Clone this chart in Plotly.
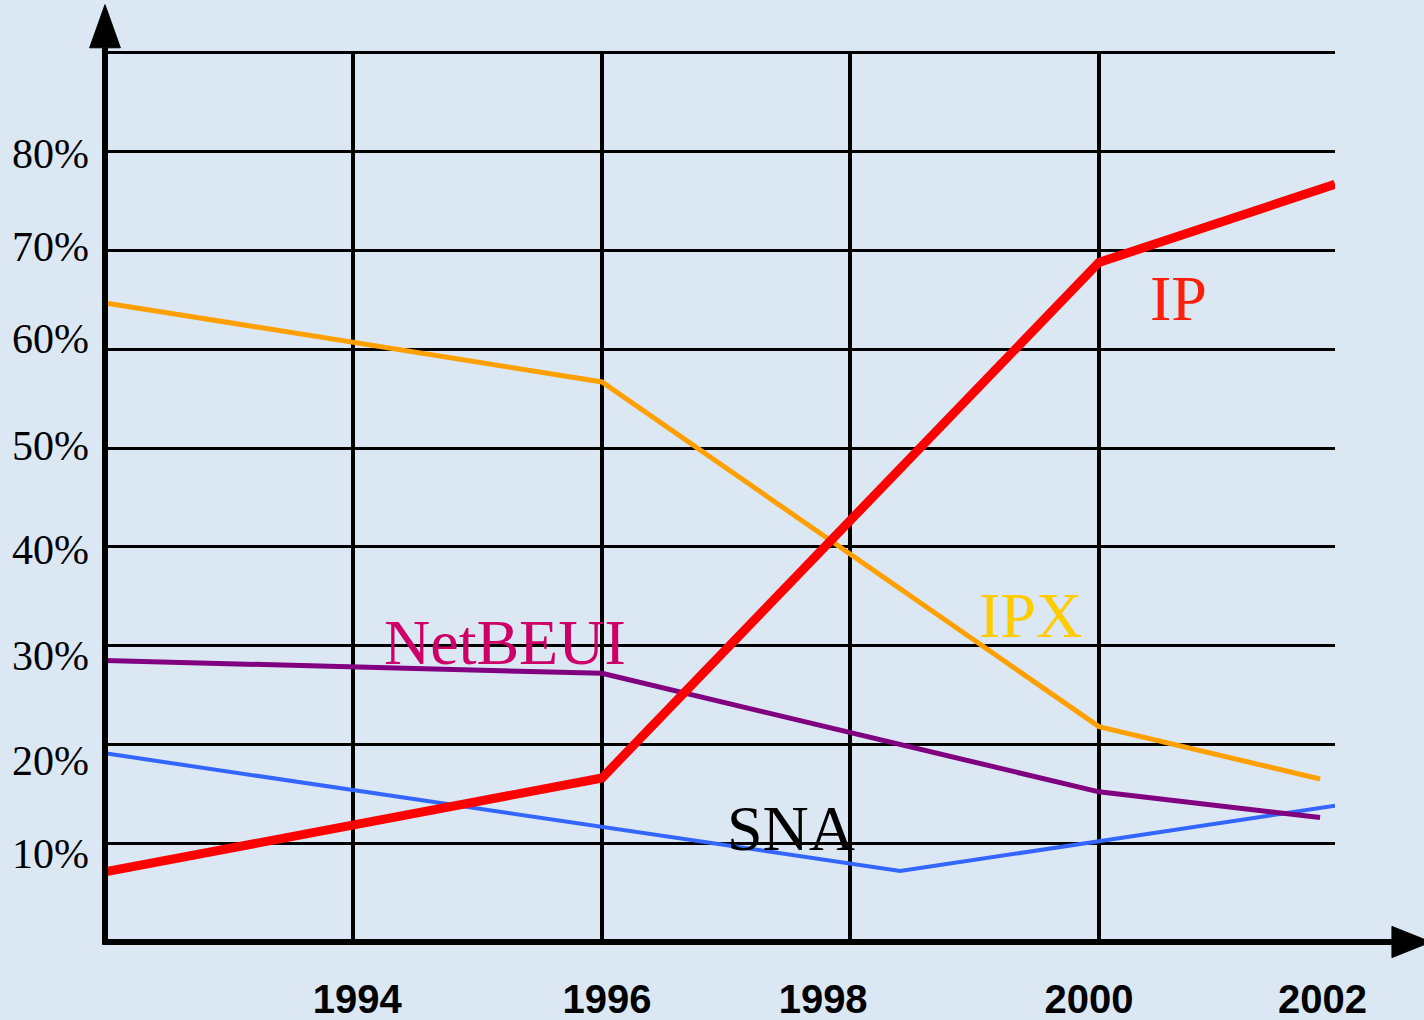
import plotly.graph_objects as go

# ---- data ----
ip_years = [1992, 1996, 2000, 2001.9]
ip_share = [7.1, 16.6, 68.8, 76.7]

ipx_years = [1992, 1996, 2000, 2001.78]
ipx_share = [64.7, 56.7, 21.8, 16.5]

netbeui_years = [1992, 1996, 2000, 2001.78]
netbeui_share = [28.5, 27.2, 15.2, 12.6]

sna_years = [1992, 1996, 1998.4, 2000, 2001.9]
sna_share = [19.1, 11.6, 7.2, 10.2, 13.8]

grid_years = [1994, 1996, 1998, 2000]
grid_pcts = [10, 20, 30, 40, 50, 60, 70, 80, 90]

x_tick_text = ["1994", "1996", "1998", "2000", "2002"]
x_tick_pos = [1994.03, 1996.04, 1997.78, 1999.92, 2001.8]

y_tick_text = ["10%", "20%", "30%", "40%", "50%", "60%", "70%", "80%"]
y_tick_pos = [9.0, 18.4, 29.0, 39.8, 50.3, 61.1, 70.4, 79.8]

series_labels = ["IP", "IPX", "NetBEUI", "SNA"]
label_x = [2000.64, 1999.45, 1995.22, 1997.52]
label_y = [65.1, 33.1, 30.3, 11.5]
label_colors = ["#FF1E0A", "#FFCC00", "#CC0066", "#000000"]

X_RANGE = [1992, 2001.9]
Y_RANGE = [0, 90.2]

fig = go.Figure()

fig.add_trace(go.Scatter(x=sna_years, y=sna_share, mode="lines",
                         line=dict(color="#3366FF", width=4), name="SNA"))
fig.add_trace(go.Scatter(x=netbeui_years, y=netbeui_share, mode="lines",
                         line=dict(color="#800080", width=5), name="NetBEUI"))
fig.add_trace(go.Scatter(x=ipx_years, y=ipx_share, mode="lines",
                         line=dict(color="#FFA000", width=5), name="IPX"))
fig.add_trace(go.Scatter(x=ip_years, y=ip_share, mode="lines",
                         line=dict(color="#FF0000", width=9), name="IP"))
# empty trace that carries the label axes
fig.add_trace(go.Scatter(x=[], y=[], xaxis="x2", yaxis="y2", showlegend=False))

for t, xx, yy, c in zip(series_labels, label_x, label_y, label_colors):
    fig.add_annotation(x=xx, y=yy, text=t, showarrow=False,
                       font=dict(family="Liberation Serif", size=64, color=c),
                       xanchor="center", yanchor="middle")

# axis lines with arrow heads (paper coordinates)
fig.add_shape(type="line", xref="paper", yref="paper", x0=0, y0=-0.003, x1=0, y1=1.004,
              line=dict(color="black", width=6))
fig.add_shape(type="line", xref="paper", yref="paper", x0=-0.002, y0=0, x1=1.05, y1=0,
              line=dict(color="black", width=6))
fig.add_shape(type="path", xref="paper", yref="paper",
              path="M -0.0125,1.0036 L 0.0125,1.0036 L 0,1.052 Z",
              fillcolor="black", line=dict(color="black", width=1))
fig.add_shape(type="path", xref="paper", yref="paper",
              path="M 1.0463,-0.0175 L 1.0463,0.0175 L 1.078,0 Z",
              fillcolor="black", line=dict(color="black", width=1))

fig.update_layout(
    width=1424, height=1020,
    margin=dict(l=105, r=89, t=51, b=78, autoexpand=False),
    paper_bgcolor="#DBE7F3",
    plot_bgcolor="rgba(0,0,0,0)",
    showlegend=False,
    xaxis=dict(range=X_RANGE, tickvals=grid_years, showticklabels=False,
               showgrid=True, gridcolor="black", gridwidth=3.5, automargin=False,
               zeroline=False, showline=False, ticks=""),
    yaxis=dict(range=Y_RANGE, tickvals=grid_pcts, showticklabels=False,
               showgrid=True, gridcolor="black", gridwidth=2.5, automargin=False,
               zeroline=False, showline=False, ticks=""),
    xaxis2=dict(range=X_RANGE, overlaying="x", anchor="y2", side="bottom",
                tickvals=x_tick_pos, ticktext=x_tick_text, showgrid=False,
                automargin=False,
                zeroline=False, showline=False, ticks="", ticklabelstandoff=30,
                tickfont=dict(family="Liberation Sans", size=40, color="black",
                              weight="bold")),
    yaxis2=dict(range=Y_RANGE, overlaying="y", anchor="x2", side="left",
                tickvals=y_tick_pos, ticktext=y_tick_text, showgrid=False,
                automargin=False,
                zeroline=False, showline=False, ticks="", ticklabelstandoff=15,
                tickfont=dict(family="Liberation Serif", size=42, color="black")),
)

fig.write_html("out.html", config={"displayModeBar": False},
               post_script="document.body.style.margin='0';document.body.style.overflow='hidden';")
